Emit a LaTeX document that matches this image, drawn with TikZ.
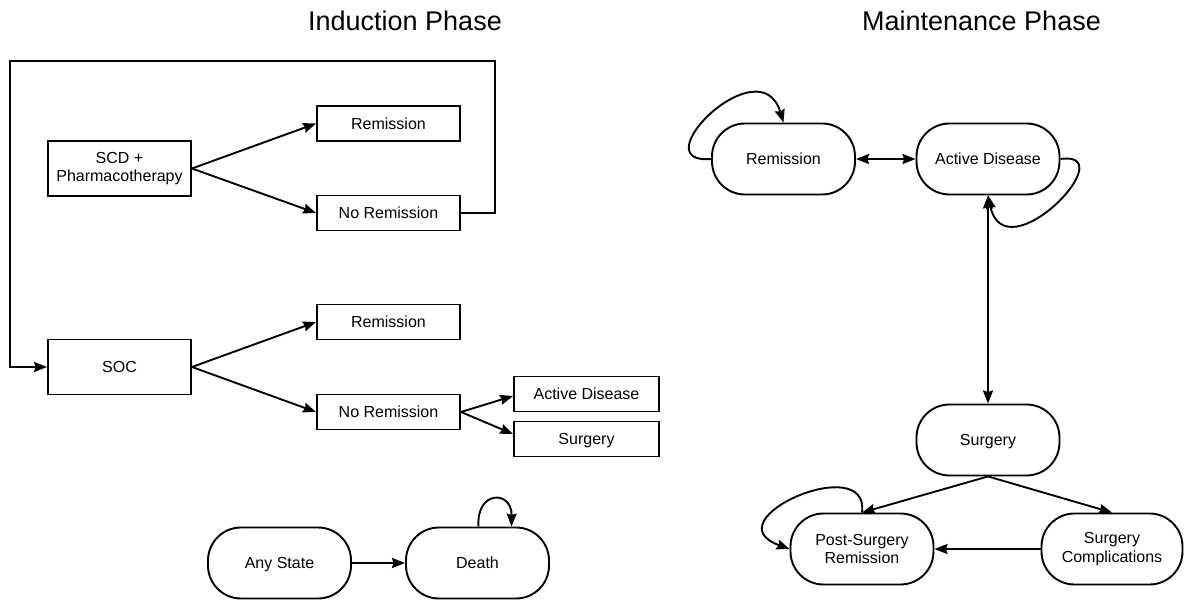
\documentclass[tikz,border=0pt]{standalone}
\usepackage{fontspec}
\setmainfont{Liberation Sans}
\usetikzlibrary{positioning,calc,arrows.meta}
\tikzset{%
  arrow/.style = {
    -{Stealth[length=13pt,width=10pt,inset=1.5pt]},
    line width = 1.9pt,
    draw = #1,
  },
  arrow/.default = {black},
  twoway/.style = {
    {Stealth[length=13pt,width=10pt,inset=1.5pt]}-{Stealth[length=13pt,width=10pt,inset=1.5pt]},
    line width = 1.9pt,
  },
  tbox/.style = {
    draw,
    line width = 1.9pt,
    align = center,
    minimum width = 143pt,
    minimum height = #1,
    inner sep = 2pt,
    font = \fontsize{16}{18.5}\selectfont,
  },
  tbox/.default = {35pt},
  pill/.style = {
    draw,
    line width = 1.9pt,
    rounded corners = 33pt,
    align = center,
    minimum width = 143pt,
    minimum height = 71pt,
    font = \fontsize{16}{18.5}\selectfont,
  },
  oneline/.style = {
    text height = 11.6pt,
    text depth = 0pt,
  },
  phase/.style = {
    font = \fontsize{27}{32}\selectfont,
  },
}

\begin{document}
\begin{tikzpicture}[x=1pt, y=-1pt]
  \useasboundingbox (0,0) rectangle (1184,601);

  % induction phase
  \node[phase] (indtitle) at (405,21) {Induction Phase};
  \node[tbox=55pt] (scd)    at (119.5,168.5) {SCD +\\Pharmacotherapy};
  \node[tbox, oneline] (rem1)   at (388.5,123.5) {Remission};
  \node[tbox, oneline] (norem1) at (388.5,213)   {No Remission};
  \node[tbox=55pt, oneline] (soc) at (119.5,367) {SOC};
  \node[tbox, oneline] (rem2)   at (388.5,322)   {Remission};
  \node[tbox, oneline] (norem2) at (388.5,412)   {No Remission};
  \node[tbox, oneline, minimum width=145pt] (actsm)  at (586.5,394) {Active Disease};
  \node[tbox, oneline, minimum width=145pt] (surgsm) at (586.5,439) {Surgery};
  \node[pill, oneline] (any)   at (279.5,563) {Any State};
  \node[pill, oneline] (death) at (477.5,563) {Death};

  \coordinate (loopright) at (495,61);
  \coordinate (loopleft)  at (10,61);

  \draw[arrow] (scd.east) -- (rem1.west);
  \draw[arrow] (scd.east) -- (norem1.west);
  \draw[arrow] (norem1.east) -| (loopright) -- (loopleft) |- (soc.west);
  \draw[arrow] (soc.east) -- (rem2.west);
  \draw[arrow] (soc.east) -- (norem2.west);
  \draw[arrow] (norem2.east) -- ([yshift=-2pt]actsm.west);
  \draw[arrow] (norem2.east) -- ([yshift=5pt]surgsm.west);
  \draw[arrow] (any.east) -- (death.west);
  \draw[arrow] ([xshift=1pt]death.north) .. controls (476,490) and (512,490) .. ([xshift=34pt]death.north);

  % maintenance phase
  \node[phase] (mainttitle) at (981.5,21) {Maintenance Phase};
  \node[pill, oneline] (rem)    at (783.5,159) {Remission};
  \node[pill, oneline] (actdis) at (988,159)   {Active Disease};
  \node[pill, oneline] (surg)   at (988,440)   {Surgery};
  \node[pill] (postsurg) at (862,549)   {Post-Surgery\\Remission};
  \node[pill, minimum width=141pt] (compl) at (1112,549) {Surgery\\Complications};

  \draw[twoway] (rem.east) -- (actdis.west);
  \draw[twoway] (actdis.south) -- (surg.north);
  \draw[arrow] (rem.west) .. controls (640,165) and (760,45) .. (rem.north);
  \draw[arrow] (actdis.east) .. controls (1125,150) and (1005,275) .. (actdis.south);
  \draw[arrow] (surg.south) -- (postsurg.north);
  \draw[arrow] (surg.south) -- (compl.north);
  \draw[arrow] (compl.west) -- (postsurg.east);
  \draw[arrow] (postsurg.north) .. controls (870,450) and (710,520) .. (postsurg.west);
\end{tikzpicture}
\end{document}
